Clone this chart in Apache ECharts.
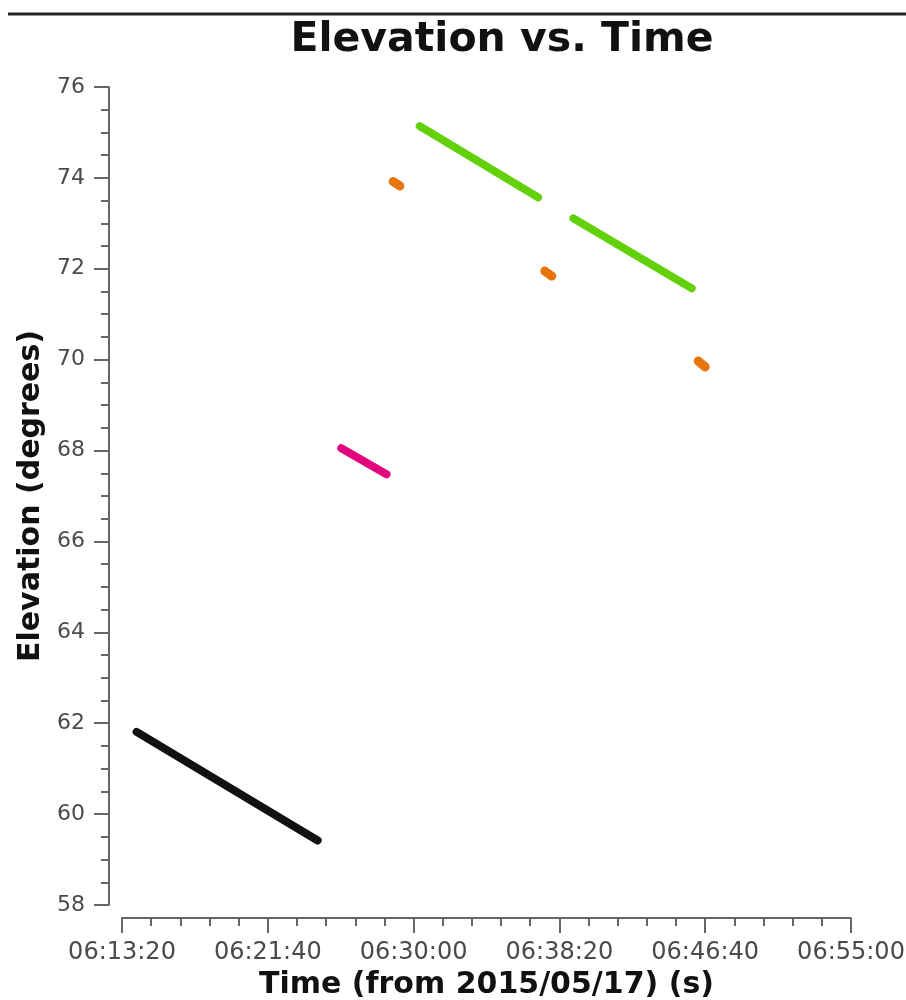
<!DOCTYPE html>
<html>
<head>
<meta charset="utf-8">
<title>Elevation vs. Time</title>
<script src="https://cdn.jsdelivr.net/npm/echarts@6/dist/echarts.min.js"></script>
<style>
  html, body { margin: 0; padding: 0; background: #fff; }
  #chart { width: 906px; height: 1000px; }
</style>
</head>
<body>
<div id="chart"></div>
<script>
// Time axis origin (seconds from 2015/05/17 00:00:00) and range
const timeOrigin = 22400;          // 06:13:20
const timeSpan = 2500;             // up to 06:55:00
const timeStep = 500;

// Elevation axis range
const elevMin = 58;
const elevMax = 76;
const elevStep = 2;

// Tracks: time (s of day) and elevation (degrees)
const blackTime = [22450, 23071];
const blackElev = [61.81, 59.42];

const magentaTime = [23152, 23307];
const magentaElev = [68.05, 67.48];

const greenTimeA = [23421, 23827];
const greenElevA = [75.14, 73.57];
const greenTimeB = [23948, 24354];
const greenElevB = [73.11, 71.57];

const orangeTimeA = [23330, 23353];
const orangeElevA = [73.92, 73.82];
const orangeTimeB = [23850, 23874];
const orangeElevB = [71.95, 71.84];
const orangeTimeC = [24376, 24400];
const orangeElevC = [69.97, 69.84];

function pairs(times, elevs) {
  return times.map((t, i) => [t - timeOrigin, elevs[i]]);
}

function pad(n) { return String(n).padStart(2, '0'); }
function clock(sec) {
  const s = Math.round(sec);
  return pad(Math.floor(s / 3600)) + ':' + pad(Math.floor((s % 3600) / 60)) + ':' + pad(s % 60);
}

function track(times, elevs, color, width) {
  return {
    type: 'line',
    data: pairs(times, elevs),
    showSymbol: false,
    silent: true,
    lineStyle: { color: color, width: width, cap: 'round', join: 'round' }
  };
}

const font = 'DejaVu Sans';
const axisGrey = '#666';
const chart = echarts.init(document.getElementById('chart'), null, { renderer: 'canvas' });

chart.setOption({
  animation: false,
  backgroundColor: '#ffffff',
  title: {
    text: 'Elevation vs. Time',
    left: 497,
    textAlign: 'center',
    top: 15,
    textStyle: { fontFamily: font, fontWeight: 'bold', fontSize: 41, color: '#111' }
  },
  graphic: [{
    type: 'line',
    shape: { x1: 8, y1: 14, x2: 906, y2: 14 },
    style: { stroke: '#222', lineWidth: 3 }
  }],
  grid: { left: 122, right: 55, top: 87, bottom: 95, outerBoundsMode: 'none' },
  xAxis: {
    type: 'value',
    min: 0,
    max: timeSpan,
    interval: timeStep,
    offset: 13,
    name: 'Time (from 2015/05/17) (s)',
    nameLocation: 'middle',
    nameGap: 52,
    nameTextStyle: { fontFamily: font, fontWeight: 'bold', fontSize: 30, color: '#111' },
    axisLine: { show: true, onZero: false, lineStyle: { color: axisGrey, width: 2 } },
    axisTick: { show: true, length: 15, lineStyle: { color: axisGrey, width: 2 } },
    minorTick: { show: true, splitNumber: 5, length: 8, lineStyle: { color: axisGrey, width: 2 } },
    splitLine: { show: false },
    axisLabel: {
      margin: 23,
      fontFamily: font,
      fontSize: 24,
      color: '#4a4a4a',
      formatter: v => clock(v + timeOrigin)
    }
  },
  yAxis: {
    type: 'value',
    min: elevMin,
    max: elevMax,
    interval: elevStep,
    offset: 13,
    name: 'Elevation (degrees)',
    nameLocation: 'middle',
    nameGap: 60,
    nameTextStyle: { fontFamily: font, fontWeight: 'bold', fontSize: 30, color: '#111' },
    axisLine: { show: true, onZero: false, lineStyle: { color: axisGrey, width: 2 } },
    axisTick: { show: true, length: 15, lineStyle: { color: axisGrey, width: 2 } },
    minorTick: { show: true, splitNumber: 4, length: 8, lineStyle: { color: axisGrey, width: 2 } },
    splitLine: { show: false },
    axisLabel: { margin: 24, fontFamily: font, fontSize: 22, color: '#4a4a4a' }
  },
  series: [
    track(blackTime, blackElev, '#111111', 8),
    track(magentaTime, magentaElev, '#e2067c', 8),
    track(greenTimeA, greenElevA, '#62d10a', 8),
    track(greenTimeB, greenElevB, '#62d10a', 8),
    track(orangeTimeA, orangeElevA, '#e8740c', 9),
    track(orangeTimeB, orangeElevB, '#e8740c', 9),
    track(orangeTimeC, orangeElevC, '#e8740c', 9)
  ]
});
</script>
</body>
</html>
